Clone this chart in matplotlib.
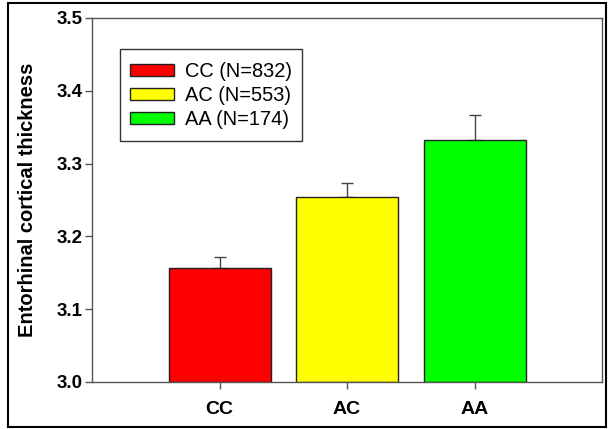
import matplotlib
matplotlib.use("Agg")
import matplotlib.pyplot as plt
from matplotlib.patches import Rectangle

categories = ["CC", "AC", "AA"]
legend_labels = ["CC (N=832)", "AC (N=553)", "AA (N=174)"]
means = [3.156, 3.254, 3.332]
errors = [0.016, 0.020, 0.035]
colors = ["#ff0000", "#ffff00", "#00ff00"]
yticks = [3.0, 3.1, 3.2, 3.3, 3.4, 3.5]

plt.rcParams['font.family'] = ['Liberation Sans', 'DejaVu Sans']

W, H = 611, 429
fig = plt.figure(figsize=(W/100, H/100), dpi=100)
ax = fig.add_axes([92/W, 1 - 382/H, 510/W, 364/H])

x = [1, 2, 3]
ax.bar(x, [m - 3.0 for m in means], bottom=3.0, width=0.8, color=colors,
       edgecolor="#222222", linewidth=1.0, zorder=2)
ax.errorbar(x, means, yerr=[[0, 0, 0], errors], fmt='none', ecolor="#444444",
            elinewidth=1.0, capsize=4, capthick=1.0, zorder=1)

ax.set_xlim(0, 4)
ax.set_ylim(3.0, 3.5)
ax.set_xticks(x)
ax.set_xticklabels(categories, fontsize=14, fontweight='bold')
ax.set_yticks(yticks)
ax.set_yticklabels([f"{v:.1f}" for v in yticks], fontsize=13.5, fontweight='bold')
ax.tick_params(axis='both', direction='out', length=5, width=1, color="#555555")
ax.tick_params(axis='x', pad=9)
ax.tick_params(axis='y', pad=2)
for s in ax.spines.values():
    s.set_color("#555555")
    s.set_linewidth(1.0)
ax.set_ylabel("Entorhinal cortical thickness", fontsize=14.5, fontweight='bold', labelpad=14)

handles = [Rectangle((0, 0), 1, 1, facecolor=c, edgecolor="#222222", linewidth=1.0) for c in colors]
anchor = [130/W, 1 - 59/H]
leg = fig.legend(handles, legend_labels, loc='upper left',
                 bbox_to_anchor=tuple(anchor),
                 fontsize=14.4, frameon=False,
                 handlelength=2.2, handleheight=0.5, handletextpad=0.55, labelspacing=0.25,
                 borderpad=0, borderaxespad=0)

# align legend rows to the reference positions (first row center y=71.5, text start x=185)
fig.canvas.draw()
ext = leg.get_texts()[0].get_window_extent()
cy = H - (ext.y0 + ext.y1) / 2
dx = 185 - ext.x0
dy = 71.5 - cy
leg.set_bbox_to_anchor((anchor[0] + dx / W, anchor[1] - dy / H), transform=fig.transFigure)

# legend frame
fig.patches.append(Rectangle((120/W, 1 - 141/H), 182/W, 92/H, transform=fig.transFigure,
                             fill=True, facecolor="white", edgecolor="#333333", linewidth=1.0,
                             zorder=3))
leg.set_zorder(4)

fig.patches.append(Rectangle((8/W, 2/H), 598/W, 424/H, transform=fig.transFigure,
                             fill=False, edgecolor="black", linewidth=1.5))

fig.savefig("out.png", dpi=100)
